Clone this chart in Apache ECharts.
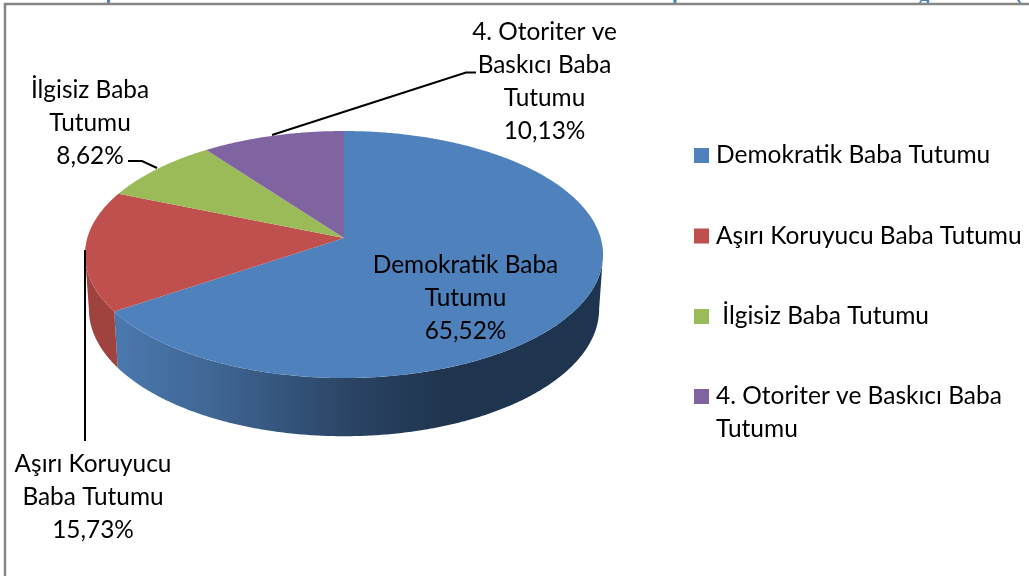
<!DOCTYPE html>
<html><head><meta charset="utf-8">
<style>html,body{margin:0;padding:0;background:#fff}#c{width:1029px;height:576px}</style>
<script src="https://cdn.jsdelivr.net/npm/echarts@6/dist/echarts.min.js"></script>
</head><body><div id="c"></div>
<script>
// ---- data ----
const categories = ['Demokratik Baba Tutumu', 'Aşırı Koruyucu Baba Tutumu', 'İlgisiz Baba Tutumu', '4. Otoriter ve Baskıcı Baba Tutumu'];
const values = [65.52, 15.73, 8.62, 10.13];
const legendLabels = ['Demokratik Baba Tutumu', 'Aşırı Koruyucu Baba Tutumu', ' İlgisiz Baba Tutumu', '\n4. Otoriter ve Baskıcı Baba\nTutumu'];
const labelLines = [['Demokratik Baba', 'Tutumu'], ['Aşırı Koruyucu', 'Baba Tutumu'], ['İlgisiz Baba', 'Tutumu'], ['4. Otoriter ve', 'Baskıcı Baba', 'Tutumu']];
const croppedHeadingGlyphs = ['j', 'p', 'g', '('];
// ---- style / layout ----
const colors = ['#4F81BD', '#C0504D', '#9BBB59', '#8064A2'];
const wallColors = [null, '#A0433F', '#7F9A48', '#684F86'];
const FONT = 'Lato, Carlito, "Noto Sans", sans-serif';
const FS = 24.4;
const LFS = 24.5;
const LH = 33;
const pie = {cx: 344, cy: 238, rx: 256.7, ry: 121.3, k: 0.1337, dz: 54, shrinkX: 0.985, shrinkY: 1.03};
const edgeAngle = Math.acos(-pie.k) * 180 / Math.PI; // silhouette tangent of the projected disc
const labelAnchors = [[465.5, 249], [93, 448], [90, 74], [544.5, 16]];
const leaders = [null, [[85, 250], [85, 441]], [[157, 168], [142, 161], [128, 161]], [[272, 135], [466, 72.5], [476, 72.5]]];
const glyphX = [108, 678, 924, 1019];

function project(deg) {
  const a = deg * Math.PI / 180, y = -Math.cos(a), x = Math.sin(a), s = 1 / (1 - pie.k * y);
  return [pie.cx + pie.rx * x * s, pie.cy + pie.ry * y * s];
}
function arc(a0, a1) {
  const n = Math.max(2, Math.ceil(Math.abs(a1 - a0) * 2)), out = [];
  for (let i = 0; i <= n; i++) out.push(project(a0 + (a1 - a0) * i / n));
  return out;
}
const lower = p => [pie.cx + (p[0] - pie.cx) * pie.shrinkX, pie.cy + (p[1] - pie.cy) * pie.shrinkY + pie.dz];
const total = values.reduce((a, b) => a + b, 0);
const starts = values.map((_, i) => values.slice(0, i).reduce((a, b) => a + b, 0));

function renderSlice(idx) {
  return function (params, api) {
    const v = api.value(0);
    const a0 = starts[idx] / total * 360, a1 = a0 + v / total * 360;
    const children = [];
    const w0 = Math.max(a0, edgeAngle), w1 = Math.min(a1, 360 - edgeAngle);
    if (w1 > w0) {
      const top = arc(w0, w1);
      const fill = idx === 0
        ? new echarts.graphic.LinearGradient(118, 0, 445, 0, [
            {offset: 0, color: '#4A78AE'}, {offset: 0.3, color: '#3F6593'},
            {offset: 0.7, color: '#2B4566'}, {offset: 1, color: '#1F344E'}], true)
        : wallColors[idx];
      children.push({type: 'polygon', shape: {points: top.concat(top.map(lower).reverse())}, style: {fill}});
    }
    children.push({type: 'polygon', shape: {points: [[pie.cx, pie.cy]].concat(arc(a0, a1))}, style: {fill: colors[idx]}});
    if (leaders[idx]) children.push({type: 'polyline', shape: {points: leaders[idx]}, style: {stroke: '#000', lineWidth: 2, fill: null}});
    const text = labelLines[idx].concat(v.toFixed(2).replace('.', ',') + '%').join('\n');
    children.push({type: 'text', z2: 10, style: {x: labelAnchors[idx][0], y: labelAnchors[idx][1], text, align: 'center', verticalAlign: 'top',
      fontFamily: FONT, fontSize: FS, lineHeight: LH, fill: '#000'}});
    return {type: 'group', children};
  };
}

const legendBase = {
  orient: 'vertical', left: 694, padding: 0, itemWidth: 15, itemHeight: 15, itemGap: 47.5, icon: 'rect',
  textStyle: {fontFamily: FONT, fontSize: LFS, color: '#000', lineHeight: LH, padding: [0, 0, 0, 2]},
  formatter: n => legendLabels[categories.indexOf(n)]
};

const chart = echarts.init(document.getElementById('c'), null, {renderer: 'canvas'});
chart.setOption({
  animation: false,
  backgroundColor: '#fff',
  graphic: croppedHeadingGlyphs.map((t, i) => ({type: 'text', z: 0, style: {x: glyphX[i], y: 5, text: t, align: 'center', verticalAlign: 'bottom',
      fontFamily: '"Liberation Serif", serif', fontWeight: 'bold', fontSize: 22, fill: '#4F81BD'}})).concat([
    {type: 'polyline', z: 1, shape: {points: [[5, 576], [5, 4], [1029, 4]]}, style: {stroke: '#868686', lineWidth: 2.5, fill: null}}]),
  legend: [
    Object.assign({}, legendBase, {top: 139, data: categories.slice(0, 3)}),
    Object.assign({}, legendBase, {top: 347, data: categories.slice(3)})
  ],
  series: categories.map((name, i) => ({
    type: 'custom', name, coordinateSystem: 'none', silent: true, z: 2,
    itemStyle: {color: colors[i]},
    renderItem: renderSlice(i),
    data: [values[i]]
  }))
});
</script></body></html>
